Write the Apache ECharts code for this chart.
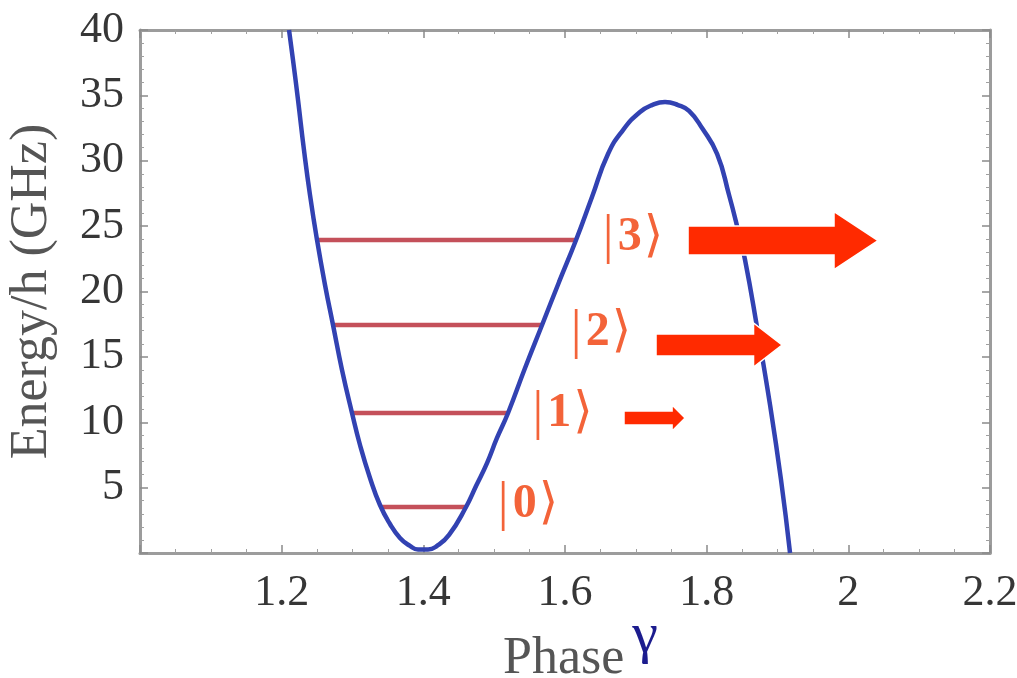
<!DOCTYPE html>
<html>
<head>
<meta charset="utf-8">
<script src="https://cdn.jsdelivr.net/npm/echarts@6/dist/echarts.min.js"></script>
<style>
  html, body { margin: 0; padding: 0; background: #ffffff; }
  #chart { width: 1017px; height: 678px; }
</style>
</head>
<body>
<div id="chart"></div>
<script>
// ---- data ----
const phase = [1.2104, 1.2160, 1.2231, 1.2315, 1.2400, 1.2499, 1.2612, 1.2725, 1.2852, 1.2993,
               1.3106, 1.3247, 1.3388, 1.3529, 1.3670, 1.3812, 1.3925, 1.4066, 1.4193, 1.4363,
               1.4603, 1.4744, 1.4899, 1.5040, 1.5196, 1.5436, 1.5676, 1.5916, 1.6156, 1.6381,
               1.6607, 1.6819, 1.7059, 1.7229, 1.7412, 1.7596, 1.7751, 1.7935, 1.8147, 1.8316,
               1.8443, 1.8542, 1.8711, 1.8895, 1.9050, 1.9177];
const energy = [40.00, 37.71, 34.65, 30.82, 27.38, 23.94, 20.50, 17.44, 14.00, 10.71,
                8.26, 5.74, 3.67, 2.22, 1.15, 0.54, 0.27, 0.27, 0.54, 1.38,
                3.52, 5.12, 6.88, 8.80, 10.71, 14.15, 17.44, 20.73, 23.94, 27.23,
                30.52, 32.35, 33.73, 34.26, 34.49, 34.26, 33.81, 32.50, 30.52, 27.38,
                24.70, 22.41, 17.28, 11.32, 5.58, 0.00];

// energy levels |0>..|3>
const levelDigits = ['0', '1', '2', '3'];
const levelEnergy = [3.52, 10.71, 17.44, 23.94];
const levelLeft   = [1.3388, 1.2993, 1.2725, 1.2499];
const levelRight  = [1.4603, 1.5196, 1.5676, 1.6156];

// ket label anchors
const ketX = [1.5478, 1.5966, 1.6508, 1.6960];
const ketY = [3.67, 10.63, 16.83, 24.09];

// tunnelling arrows for |1>, |2>, |3>
const arrowStart = [1.6833, 1.7285, 1.7737];
const arrowEnd   = [1.7695, 1.9064, 2.0419];
const arrowLevel = [10.32, 15.91, 23.90];

// axes
const xMin = 1.0, xMax = 2.2, xStep = 0.2;
const yMin = 0, yMax = 40, yStep = 5;

// ---- styles (pixel sizes) ----
const arrowShaftHalf = [7, 11, 14.5];
const arrowHeadHalf  = [13, 22, 29];
const arrowHeadLen   = [13, 28.5, 44];

const serif = 'Liberation Serif, DejaVu Serif, serif';
const frameColor = '#9c9c9c';
const ketColor = '#f03c08';

const chart = echarts.init(document.getElementById('chart'), null, { renderer: 'canvas' });

function frameAxis(pos, isX, showLabels) {
  const a = {
    type: 'value',
    position: pos,
    min: isX ? xMin : yMin,
    max: isX ? xMax : yMax,
    interval: isX ? xStep : yStep,
    axisLine: { show: true, onZero: false, lineStyle: { color: frameColor, width: 3 } },
    axisTick: { show: true, inside: true, length: 8, lineStyle: { color: '#8a8a8a', width: 1.5 } },
    minorTick: { show: true, splitNumber: isX ? 4 : 5, length: 4, lineStyle: { color: '#a0a0a0', width: 1 } },
    splitLine: { show: false },
    minorSplitLine: { show: false },
    axisLabel: { show: false }
  };
  if (showLabels) {
    a.axisLabel = {
      show: true,
      fontFamily: serif,
      fontSize: 44,
      color: '#363636',
      margin: isX ? 18 : 16,
      formatter: isX
        ? (v => (v <= xMin + 1e-6 ? '' : String(parseFloat(v.toFixed(1)))))
        : (v => (v === 0 ? '' : String(v)))
    };
  }
  return a;
}

const xBottom = frameAxis('bottom', true, true);
xBottom.name = '{p|Phase}{g|\u03B3}';
xBottom.nameLocation = 'middle';
xBottom.nameGap = 55;
xBottom.nameMoveOverlap = false;
xBottom.nameTextStyle = {
  fontFamily: serif, fontSize: 52, color: '#555555', padding: [0, 0, 0, 31],
  rich: {
    p: { fontFamily: serif, fontSize: 52, lineHeight: 54, color: '#555555', verticalAlign: 'bottom' },
    g: { fontFamily: serif, fontSize: 58, lineHeight: 77, color: '#1c1c8e', verticalAlign: 'top', padding: [0, 0, 0, 8] }
  }
};
const yLeft = frameAxis('left', false, true);
yLeft.name = 'Energy/h (GHz)';
yLeft.nameLocation = 'middle';
yLeft.nameGap = 82;
yLeft.nameMoveOverlap = false;
yLeft.nameTextStyle = { fontFamily: serif, fontSize: 52, color: '#555555' };

const series = [];
series.push({
  type: 'line',
  name: 'potential',
  xAxisIndex: 0, yAxisIndex: 0,
  data: phase.map((x, i) => [x, energy[i]]),
  smooth: 0.5,
  showSymbol: false,
  clip: true,
  lineStyle: { color: '#3242b2', width: 4.5 },
  z: 3
});
levelEnergy.forEach((e, i) => {
  series.push({
    type: 'line',
    name: 'level' + i,
    data: [[levelLeft[i], e], [levelRight[i], e]],
    showSymbol: false,
    lineStyle: { color: '#c4505a', width: 4.5 },
    z: 2
  });
});
series.push({
  type: 'scatter',
  name: 'kets',
  data: ketX.map((x, i) => ({ value: [x, ketY[i]], name: levelDigits[i] })),
  symbolSize: 0,
  label: {
    show: true, position: 'inside',
    formatter: p => '{bar||}{d|' + p.name + '}{ang|\u27E9}',
    rich: {
      bar: { fontFamily: serif, fontSize: 54, color: ketColor, padding: [0, 4, 0, 0] },
      d:   { fontFamily: serif, fontSize: 48, fontWeight: 'bold', color: ketColor },
      ang: { fontFamily: 'DejaVu Serif, Liberation Serif, serif', fontSize: 50, color: ketColor, padding: [0, 0, 0, 2] }
    }
  },
  z: 5
});
series.push({
  type: 'custom',
  name: 'arrows',
  data: arrowStart.map((x, i) => [x, arrowEnd[i], arrowLevel[i], i]),
  renderItem: function (params, api) {
    const i = api.value(3);
    const p0 = api.coord([api.value(0), api.value(2)]);
    const p1 = api.coord([api.value(1), api.value(2)]);
    const sh = arrowShaftHalf[i], hh = arrowHeadHalf[i], hl = arrowHeadLen[i];
    const y = p0[1], x0 = p0[0], xt = p1[0], xb = xt - hl;
    return {
      type: 'polygon',
      shape: { points: [[x0, y - sh], [xb, y - sh], [xb, y - hh], [xt, y], [xb, y + hh], [xb, y + sh], [x0, y + sh]] },
      style: { fill: '#ff2a00', stroke: '#ffffff', lineWidth: 1.5 }
    };
  },
  clip: false,
  z: 6
});

chart.setOption({
  backgroundColor: '#ffffff',
  animation: false,
  grid: { left: 140, right: 27, top: 30, bottom: 125, containLabel: false, outerBoundsMode: 'none' },
  xAxis: [xBottom, frameAxis('top', true, false)],
  yAxis: [yLeft, frameAxis('right', false, false)],
  series: series
});
</script>
</body>
</html>
